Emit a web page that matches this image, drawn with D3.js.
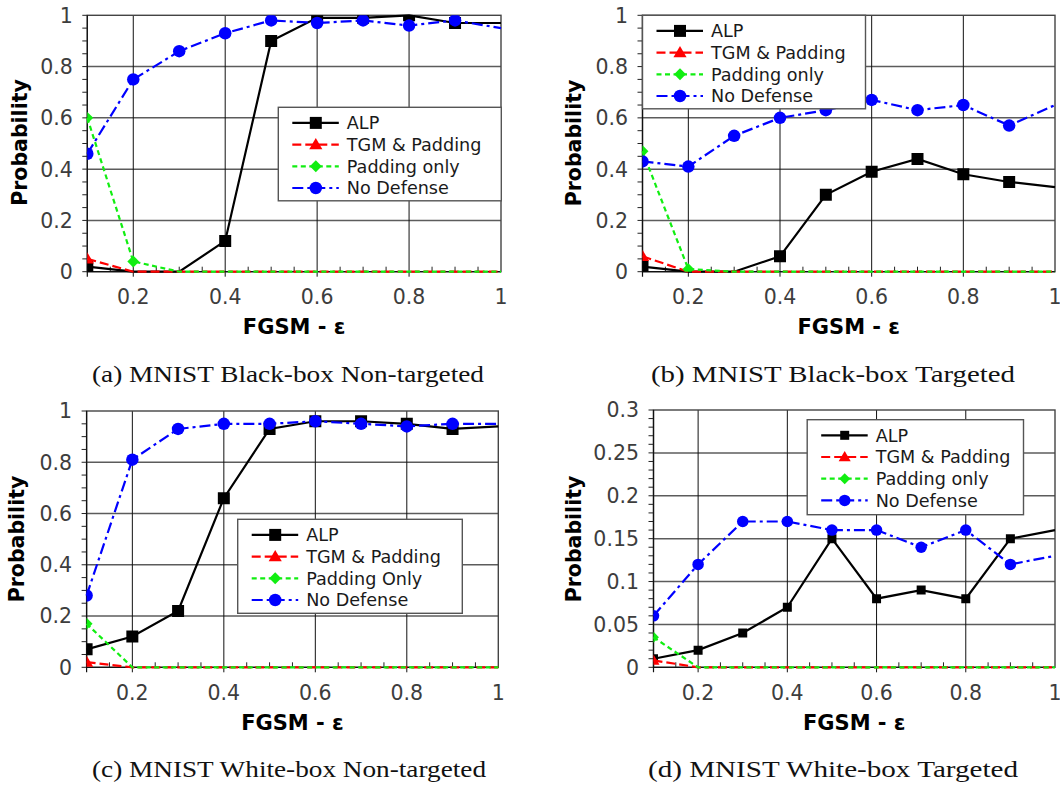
<!DOCTYPE html>
<html>
<head>
<meta charset="utf-8">
<script src="https://cdn.jsdelivr.net/npm/d3@7/dist/d3.min.js"></script>
<style>
  html, body { margin: 0; padding: 0; background: #fff; }
  svg { display: block; }
</style>
</head>
<body>
<svg id="fig" width="1060" height="787"></svg>
<script>
// FGSM epsilon values shared by every panel
const epsilons = [0.1, 0.2, 0.3, 0.4, 0.5, 0.6, 0.7, 0.8, 0.9, 1.0];
const xTickValues = [0.2, 0.4, 0.6, 0.8, 1.0];

// (a) MNIST Black-box Non-targeted
const alpA    = [0.02, 0, 0, 0.12, 0.90, 0.99, 0.99, 1.00, 0.97, 0.97];
const tgmA    = [0.05, 0, 0, 0, 0, 0, 0, 0, 0, 0];
const padA    = [0.60, 0.04, 0, 0, 0, 0, 0, 0, 0, 0];
const noDefA  = [0.46, 0.75, 0.86, 0.93, 0.98, 0.97, 0.98, 0.96, 0.98, 0.95];

// (b) MNIST Black-box Targeted
const alpB    = [0.02, 0, 0, 0.06, 0.30, 0.39, 0.44, 0.38, 0.35, 0.33];
const tgmB    = [0.06, 0, 0, 0, 0, 0, 0, 0, 0, 0];
const padB    = [0.47, 0.01, 0, 0, 0, 0, 0, 0, 0, 0];
const noDefB  = [0.43, 0.41, 0.53, 0.60, 0.63, 0.67, 0.63, 0.65, 0.57, 0.65];

// (c) MNIST White-box Non-targeted
const alpC    = [0.07, 0.12, 0.22, 0.66, 0.93, 0.96, 0.96, 0.95, 0.93, 0.94];
const tgmC    = [0.02, 0, 0, 0, 0, 0, 0, 0, 0, 0];
const padC    = [0.17, 0, 0, 0, 0, 0, 0, 0, 0, 0];
const noDefC  = [0.28, 0.81, 0.93, 0.95, 0.95, 0.96, 0.95, 0.94, 0.95, 0.95];

// (d) MNIST White-box Targeted
const alpD    = [0.01, 0.02, 0.04, 0.07, 0.15, 0.08, 0.09, 0.08, 0.15, 0.16];
const tgmD    = [0.008, 0, 0, 0, 0, 0, 0, 0, 0, 0];
const padD    = [0.035, 0, 0, 0, 0, 0, 0, 0, 0, 0];
const noDefD  = [0.06, 0.12, 0.17, 0.17, 0.16, 0.16, 0.14, 0.16, 0.12, 0.13];

const yTicksProb  = [0, 0.2, 0.4, 0.6, 0.8, 1];
const yTicksSmall = [0, 0.05, 0.1, 0.15, 0.2, 0.25, 0.3];

const captions = [
  "(a) MNIST Black-box Non-targeted",
  "(b) MNIST Black-box Targeted",
  "(c) MNIST White-box Non-targeted",
  "(d) MNIST White-box Targeted"
];

// series styling: colour, dash pattern and marker shape
const seriesStyle = {
  alp:   { color: "#000000", dash: null,          shape: "square"   },
  tgm:   { color: "#ff0000", dash: "9,4",         shape: "triangle" },
  pad:   { color: "#11ee11", dash: "5,3.5",       shape: "diamond"  },
  noDef: { color: "#0000ff", dash: "11,4,3,4",    shape: "circle"   }
};
const seriesOrder = ["alp", "tgm", "pad", "noDef"];

const panels = [
  { id: "a", x0: 87.3, x1: 501, y0: 15.3, y1: 271.7, yMax: 1, yTicks: yTicksProb, yMinor: 0.05,
    data: { alp: alpA, tgm: tgmA, pad: padA, noDef: noDefA },
    names: ["ALP", "TGM & Padding", "Padding only", "No Defense"],
    legend: { x: 278.3, y: 107.3, w: 223, h: 93.5 }, mSize: 12.5, mSizeSq: 12,
    yLab: { x: 26.7, y: 142.5 }, caption: captions[0], cap: { x: 288, y: 381.7, w: 392 } },
  { id: "b", x0: 642.5, x1: 1055, y0: 15.3, y1: 271.7, yMax: 1, yTicks: yTicksProb, yMinor: 0.05,
    data: { alp: alpB, tgm: tgmB, pad: padB, noDef: noDefB },
    names: ["ALP", "TGM & Padding", "Padding only", "No Defense"],
    legend: { x: 642.5, y: 15.3, w: 223, h: 93.5 }, mSize: 12.5, mSizeSq: 12,
    yLab: { x: 580.5, y: 143 }, caption: captions[1], cap: { x: 833, y: 381.7, w: 364 } },
  { id: "c", x0: 86.6, x1: 498.3, y0: 411, y1: 667.3, yMax: 1, yTicks: yTicksProb, yMinor: 0.05,
    data: { alp: alpC, tgm: tgmC, pad: padC, noDef: noDefC },
    names: ["ALP", "TGM & Padding", "Padding Only", "No Defense"],
    legend: { x: 237.7, y: 519.3, w: 224.6, h: 94 }, mSize: 12.5, mSizeSq: 12,
    yLab: { x: 24.3, y: 539 }, caption: captions[2], cap: { x: 289, y: 777.3, w: 394 } },
  { id: "d", x0: 653.5, x1: 1055, y0: 410, y1: 667.3, yMax: 0.3, yTicks: yTicksSmall, yMinor: 0.01,
    data: { alp: alpD, tgm: tgmD, pad: padD, noDef: noDefD },
    names: ["ALP", "TGM & Padding", "Padding only", "No Defense"],
    legend: { x: 807.2, y: 419.7, w: 216.3, h: 95 }, mSize: 11.5, mSizeSq: 9,
    yLab: { x: 580.5, y: 539 }, caption: captions[3], cap: { x: 833, y: 777.3, w: 370 } }
];

const svg = d3.select("#fig");
const SANS = "'DejaVu Sans', Verdana, sans-serif";

function markerPath(shape, s) {
  const h = s / 2;
  switch (shape) {
    case "square":   return `M${-h},${-h}H${h}V${h}H${-h}Z`;
    case "triangle": return `M0,${-h * 1.05}L${h * 1.05},${h * 0.75}L${-h * 1.05},${h * 0.75}Z`;
    case "diamond":  return `M0,${-h * 0.95}L${h * 0.95},0L0,${h * 0.95}L${-h * 0.95},0Z`;
    default:         return d3.arc()({ innerRadius: 0, outerRadius: h, startAngle: 0, endAngle: 2 * Math.PI });
  }
}

panels.forEach(p => {
  const x = d3.scaleLinear().domain([0.1, 1.0]).range([p.x0, p.x1]);
  const y = d3.scaleLinear().domain([0, p.yMax]).range([p.y1, p.y0]);
  const g = svg.append("g").attr("class", "panel-" + p.id);

  const clipId = "clip-" + p.id;
  svg.append("clipPath").attr("id", clipId)
    .append("rect").attr("x", p.x0).attr("y", p.y0)
    .attr("width", p.x1 - p.x0).attr("height", p.y1 - p.y0);

  // horizontal grid lines at labelled y ticks
  g.append("g").selectAll("line")
    .data(p.yTicks.filter(v => v > 0 && v < p.yMax - 1e-9))
    .join("line")
    .attr("x1", p.x0).attr("x2", p.x1)
    .attr("y1", d => y(d)).attr("y2", d => y(d))
    .attr("stroke", "#5c5c5c").attr("stroke-width", 1.5);

  // vertical grid lines at labelled x ticks
  g.append("g").selectAll("line")
    .data(xTickValues.filter(v => v < 1))
    .join("line")
    .attr("x1", d => x(d)).attr("x2", d => x(d))
    .attr("y1", p.y0).attr("y2", p.y1 + 5)
    .attr("stroke", "#111").attr("stroke-width", 1);

  // minor ticks: x inward along the bottom, y outward along the left
  const xMinor = d3.range(0.15, 1.0001, 0.05).filter(v => Math.abs(v * 5 - Math.round(v * 5)) > 1e-6);
  g.append("g").selectAll("line").data(xMinor).join("line")
    .attr("x1", d => x(d)).attr("x2", d => x(d))
    .attr("y1", p.y1).attr("y2", p.y1 - 5)
    .attr("stroke", "#222").attr("stroke-width", 1);
  const nMinor = Math.round(p.yMax / p.yMinor);
  g.append("g").selectAll("line").data(d3.range(0, nMinor + 1).map(i => i * p.yMinor)).join("line")
    .attr("x1", p.x0 - 5).attr("x2", p.x0)
    .attr("y1", d => y(d)).attr("y2", d => y(d))
    .attr("stroke", "#222").attr("stroke-width", 1);

  // frame
  g.append("rect").attr("x", p.x0).attr("y", p.y0)
    .attr("width", p.x1 - p.x0).attr("height", p.y1 - p.y0)
    .attr("fill", "none").attr("stroke", "#444").attr("stroke-width", 1.4);
  g.append("line").attr("x1", p.x0).attr("x2", p.x0).attr("y1", p.y0).attr("y2", p.y1 + 5)
    .attr("stroke", "#111").attr("stroke-width", 1.2);
  g.append("line").attr("x1", p.x0).attr("x2", p.x1).attr("y1", p.y1).attr("y2", p.y1)
    .attr("stroke", "#111").attr("stroke-width", 1.2);

  // tick labels
  const fmt = v => (v === 0 ? "0" : v === 1 ? "1" : String(+v.toFixed(2)));
  g.append("g").selectAll("text").data(p.yTicks).join("text")
    .attr("x", p.x0 - 14.5).attr("y", d => y(d) + 7.4)
    .attr("text-anchor", "end")
    .attr("font-family", SANS).attr("font-size", 20.5).attr("fill", "#3d3d3d")
    .text(fmt);
  g.append("g").selectAll("text").data(xTickValues).join("text")
    .attr("x", d => x(d)).attr("y", p.y1 + 32.7)
    .attr("text-anchor", "middle")
    .attr("font-family", SANS).attr("font-size", 20.5).attr("fill", "#3d3d3d")
    .text(fmt);

  // axis titles
  g.append("text")
    .attr("transform", `translate(${p.yLab.x},${p.yLab.y}) rotate(-90)`)
    .attr("text-anchor", "middle")
    .attr("font-family", SANS).attr("font-weight", "bold").attr("font-size", 20.5)
    .attr("fill", "#000").text("Probability");
  g.append("text")
    .attr("x", (p.x0 + p.x1) / 2).attr("y", p.y1 + 62.7)
    .attr("text-anchor", "middle")
    .attr("font-family", SANS).attr("font-weight", "bold").attr("font-size", 21)
    .attr("fill", "#000").text("FGSM - \u03b5");

  // series: line first, then markers (clipped to the plotting area)
  const line = d3.line().x(d => x(d[0])).y(d => y(d[1]));
  seriesOrder.forEach(key => {
    const st = seriesStyle[key];
    const pts = epsilons.map((e, i) => [e, p.data[key][i]]);
    g.append("path").datum(pts)
      .attr("d", line)
      .attr("fill", "none").attr("stroke", st.color).attr("stroke-width", 2.2)
      .attr("stroke-dasharray", st.dash)
      .attr("stroke-linejoin", "miter");
    const size = st.shape === "square" ? p.mSizeSq : p.mSize;
    g.append("g").attr("clip-path", `url(#${clipId})`)
      .selectAll("path")
      .data(pts.filter(d => d[1] > 0 && d[0] < 1))
      .join("path")
      .attr("transform", d => `translate(${x(d[0])},${y(d[1])})`)
      .attr("d", markerPath(st.shape, size))
      .attr("fill", st.color);
  });

  // legend box drawn over the data
  const L = p.legend;
  const lg = g.append("g");
  lg.append("rect").attr("x", L.x).attr("y", L.y).attr("width", L.w).attr("height", L.h)
    .attr("fill", "#fff").attr("stroke", "#555").attr("stroke-width", 1.4);
  const sx0 = L.x + 14, sx1 = L.x + 60.5, mx = L.x + 37.5, tx = L.x + 68.5;
  seriesOrder.forEach((key, i) => {
    const st = seriesStyle[key];
    const ry = L.y + 15.6 + i * 21.7;
    lg.append("line").attr("x1", sx0).attr("x2", sx1).attr("y1", ry).attr("y2", ry)
      .attr("stroke", st.color).attr("stroke-width", 2.2).attr("stroke-dasharray", st.dash);
    const size = st.shape === "square" ? p.mSizeSq : p.mSize;
    lg.append("path").attr("transform", `translate(${mx},${ry})`)
      .attr("d", markerPath(st.shape, size)).attr("fill", st.color);
    lg.append("text").attr("x", tx).attr("y", ry + 6.4)
      .attr("font-family", SANS).attr("font-size", 17.6).attr("fill", "#1a1a1a")
      .text(p.names[i]);
  });

  // sub-figure caption
  svg.append("text")
    .attr("x", p.cap.x).attr("y", p.cap.y)
    .attr("text-anchor", "middle")
    .attr("font-family", "'Liberation Serif', 'Times New Roman', serif")
    .attr("font-size", 23).attr("fill", "#111")
    .attr("textLength", p.cap.w).attr("lengthAdjust", "spacingAndGlyphs")
    .text(p.caption);
});
</script>
</body>
</html>
